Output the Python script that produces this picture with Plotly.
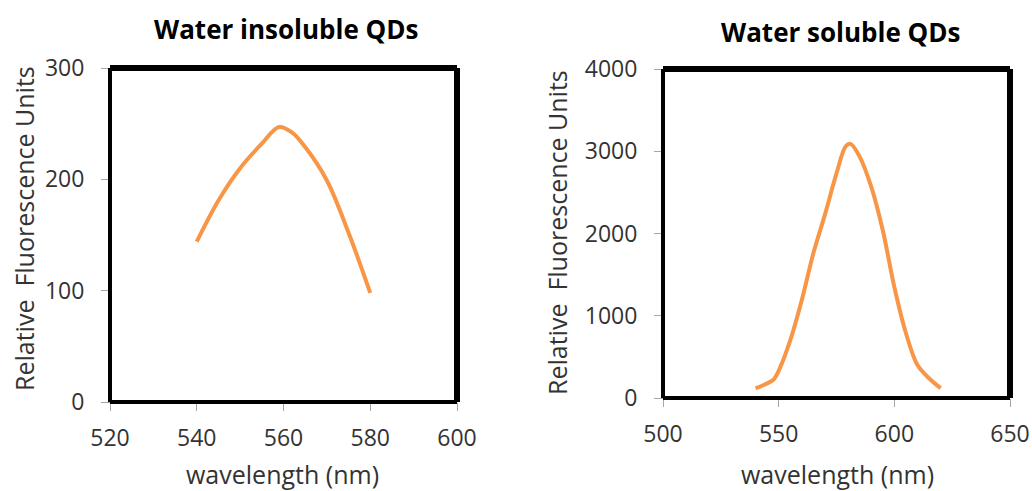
import plotly.graph_objects as go

# Left: water insoluble QDs
wl_insol = [540, 545, 550, 555, 559, 562, 565, 570, 575, 580]
fl_insol = [144, 181, 210, 232, 247, 242, 229, 199, 152, 98]

# Right: water soluble QDs
wl_sol = [540, 545, 548, 550, 555, 560, 565, 570, 575, 579, 581, 585, 590, 595, 600, 605, 610, 615, 620]
fl_sol = [118, 178, 230, 330, 700, 1190, 1760, 2230, 2730, 3060, 3090, 2935, 2570, 2040, 1350, 790, 400, 240, 120]

titles = ["Water insoluble QDs", "Water soluble QDs"]
xlab = "wavelength (nm)"
ylab = "Relative  Fluorescence Units"

ORANGE = "#F79646"
FONT = "Open Sans"
TXT = "#333333"

fig = go.Figure()
fig.add_trace(go.Scatter(x=wl_insol, y=fl_insol, mode="lines", line=dict(color=ORANGE, width=4, shape="spline"),
                         xaxis="x", yaxis="y", showlegend=False))
fig.add_trace(go.Scatter(x=wl_sol, y=fl_sol, mode="lines", line=dict(color=ORANGE, width=4, shape="spline"),
                         xaxis="x2", yaxis="y2", showlegend=False))

W, H = 1032, 491
L = dict(x0=110, x1=457, y0=68, y1=402)
R = dict(x0=663, x1=1010, y0=69, y1=398)

def dom(b):
    return [b["x0"] / W, b["x1"] / W], [1 - b["y1"] / H, 1 - b["y0"] / H]

lx, ly = dom(L)
rx, ry = dom(R)

axis_common = dict(showgrid=False, zeroline=False, showline=True, linecolor="#A6A6A6", linewidth=1,
                   ticks="outside", ticklen=8, tickcolor="#A6A6A6", automargin=False,
                   tickfont=dict(family=FONT, size=23, color=TXT))
xax = dict(ticklabelstandoff=7, **axis_common)
yax = dict(ticklabelstandoff=12, **axis_common)

fig.update_layout(
    width=W, height=H, autosize=False, margin=dict(l=0, r=0, t=0, b=0, pad=0, autoexpand=False),
    paper_bgcolor="white", plot_bgcolor="white",
    xaxis=dict(domain=lx, range=[520, 600], tickvals=[520, 540, 560, 580, 600], anchor="y", **xax),
    yaxis=dict(domain=ly, range=[0, 300], tickvals=[0, 100, 200, 300], anchor="x", **yax),
    xaxis2=dict(domain=rx, range=[500, 650], tickvals=[500, 550, 600, 650], anchor="y2", **xax),
    yaxis2=dict(domain=ry, range=[0, 4000], tickvals=[0, 1000, 2000, 3000, 4000], anchor="x2", **yax),
)

shapes = []
for b in (L, R):
    x0, x1 = b["x0"] / W, b["x1"] / W
    y0, y1 = 1 - b["y1"] / H, 1 - b["y0"] / H
    for (ax0, ay0, ax1, ay1, w) in [
        (x0, y1, x1, y1, 6),   # top
        (x1, y0, x1, y1, 6),   # right
        (x0, y0, x0, y1, 4),   # left
        (x0, y0, x1, y0, 4),   # bottom
    ]:
        shapes.append(dict(type="line", xref="paper", yref="paper", x0=ax0, y0=ay0, x1=ax1, y1=ay1,
                           line=dict(color="black", width=w)))
fig.update_layout(shapes=shapes)

ann = []
ann.append(dict(text="<b>" + titles[0] + "</b>", x=286 / W, y=1 - 29 / H, xref="paper", yref="paper",
                showarrow=False, font=dict(family=FONT, size=26, color="black"), xanchor="center", yanchor="middle"))
ann.append(dict(text="<b>" + titles[1] + "</b>", x=840 / W, y=1 - 32 / H, xref="paper", yref="paper",
                showarrow=False, font=dict(family=FONT, size=26, color="black"), xanchor="center", yanchor="middle"))
for cx, cy in [(282, 474), (837, 474)]:
    ann.append(dict(text=xlab, x=cx / W, y=1 - cy / H, xref="paper", yref="paper", showarrow=False,
                    font=dict(family=FONT, size=25, color=TXT), xanchor="center", yanchor="middle"))
for cx, cy in [(24, 229), (557, 233)]:
    ann.append(dict(text=ylab, x=cx / W, y=1 - cy / H, xref="paper", yref="paper", showarrow=False, textangle=-90,
                    font=dict(family=FONT, size=25, color=TXT), xanchor="center", yanchor="middle"))
fig.update_layout(annotations=ann)

fig.write_html("out.html")
